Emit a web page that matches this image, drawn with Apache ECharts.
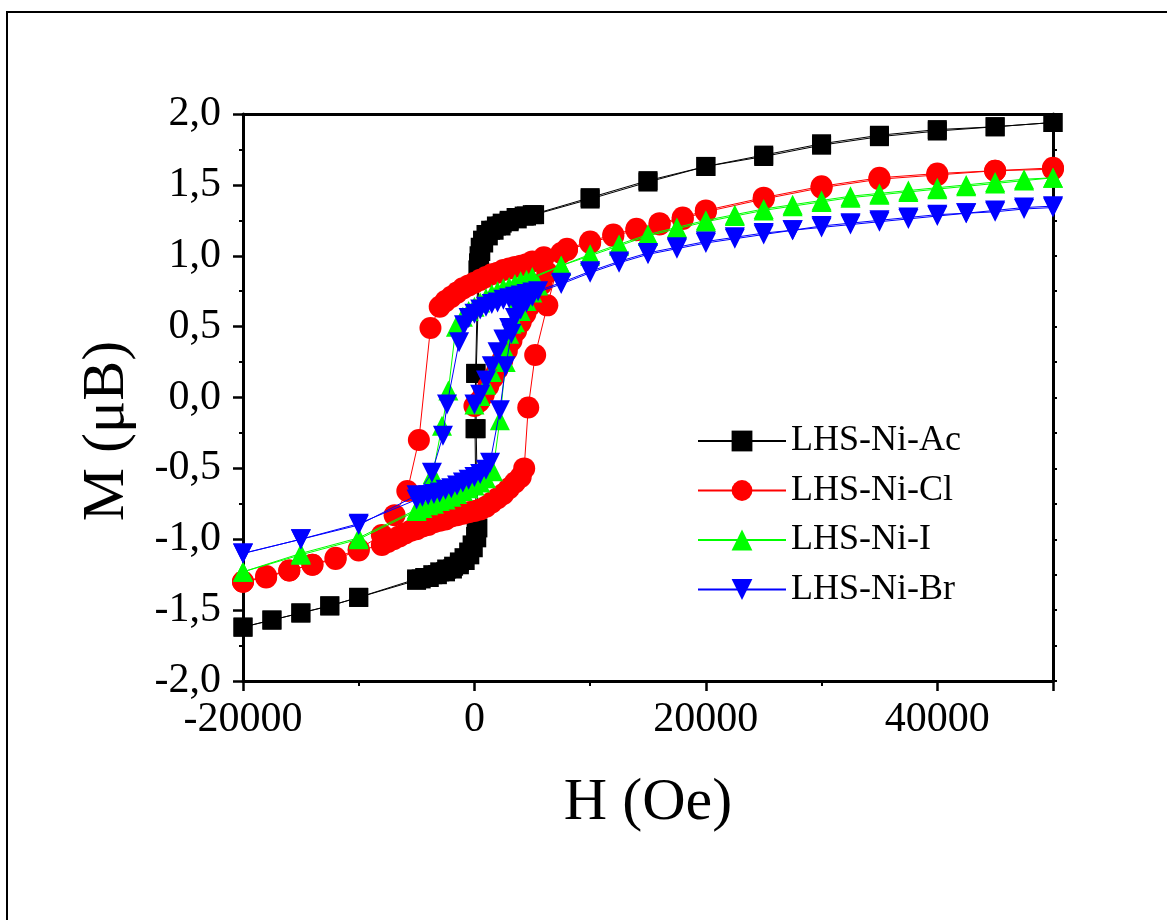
<!DOCTYPE html>
<html><head><meta charset="utf-8">
<script src="https://cdn.jsdelivr.net/npm/echarts@6/dist/echarts.min.js"></script>
<style>html,body{margin:0;padding:0;background:#fff}#c{width:1167px;height:920px}</style>
</head><body><div id="c"></div>
<script>
// ---- names ----
const seriesNames = ['LHS-Ni-Ac', 'LHS-Ni-Cl', 'LHS-Ni-I', 'LHS-Ni-Br'];
const xAxisTitle = 'H (Oe)';
const yAxisTitle = 'M (\u03bcB)';
const xRange = [-20000, 50000, 20000];
const yRange = [-2, 2, 0.5];

// ---- LHS-Ni-Ac ----
const acDown = [[50000,1.94],[45000,1.91],[40000,1.89],[35000,1.85],[30000,1.79],[25000,1.71],[20000,1.63],[15000,1.53],[10000,1.41],[5000,1.29],[4300,1.28],[3600,1.27],[3000,1.25],[2400,1.23],[1900,1.21],[1400,1.18],[1000,1.15],[700,1.11],[500,1.06],[400,1.00],[350,0.95],[300,0.90],[100,0.17],[50,-0.22],[150,-0.92],[100,-0.98],[-100,-1.06],[-400,-1.11],[-800,-1.15],[-1300,-1.18],[-1900,-1.21],[-2500,-1.23],[-3200,-1.25],[-3900,-1.27],[-4600,-1.28],[-5000,-1.29],[-10000,-1.41],[-12500,-1.47],[-15000,-1.52],[-17500,-1.57],[-20000,-1.62]];
const acUp = [[-20000,-1.62],[-17500,-1.57],[-15000,-1.52],[-12500,-1.47],[-10000,-1.41],[-5000,-1.28],[-4300,-1.27],[-3600,-1.25],[-3000,-1.23],[-2400,-1.21],[-1800,-1.19],[-1300,-1.16],[-900,-1.13],[-500,-1.09],[-200,-1.04],[200,-0.99],[300,-0.92],[150,-0.22],[150,0.17],[400,0.88],[450,0.96],[550,1.03],[800,1.09],[1200,1.14],[1700,1.18],[2300,1.21],[3000,1.24],[3700,1.26],[4500,1.28],[5200,1.29],[10000,1.40],[15000,1.52],[20000,1.63],[25000,1.70],[30000,1.78],[35000,1.84],[40000,1.88],[45000,1.91],[50000,1.94]];

// ---- LHS-Ni-Cl ----
const clVirgin = [[0,-0.06],[400,-0.03],[800,0.02],[1200,0.08],[1600,0.14],[2000,0.20],[2400,0.26],[2800,0.33],[3200,0.40],[3600,0.47],[4000,0.53],[4400,0.59],[4800,0.65],[5300,0.72],[5800,0.80],[6300,0.88]];
const clDown = [[50000,1.62],[45000,1.60],[40000,1.58],[35000,1.55],[30000,1.49],[25000,1.41],[20000,1.32],[18000,1.27],[16000,1.23],[14000,1.19],[12000,1.15],[10000,1.10],[8000,1.05],[6000,0.99],[5000,0.96],[4500,0.94],[4000,0.93],[3500,0.92],[3000,0.91],[2500,0.90],[2000,0.88],[1500,0.87],[1000,0.85],[500,0.83],[0,0.81],[-500,0.79],[-1000,0.77],[-1500,0.74],[-2000,0.71],[-2500,0.68],[-3000,0.64],[-3800,0.49],[-4800,-0.30],[-5800,-0.66],[-6900,-0.83],[-8000,-0.97],[-10000,-1.07],[-12000,-1.13],[-14000,-1.18],[-16000,-1.22],[-18000,-1.26],[-20000,-1.30]];
const clUp = [[-20000,-1.30],[-18000,-1.27],[-16000,-1.22],[-14000,-1.18],[-12000,-1.14],[-10000,-1.08],[-8000,-1.04],[-7500,-1.02],[-7000,-1.00],[-6500,-0.98],[-6000,-0.96],[-5500,-0.94],[-5000,-0.93],[-4500,-0.91],[-4000,-0.90],[-3500,-0.88],[-3000,-0.87],[-2500,-0.86],[-2000,-0.84],[-1500,-0.83],[-1000,-0.82],[-500,-0.81],[0,-0.80],[500,-0.79],[1000,-0.77],[1500,-0.74],[2000,-0.71],[2500,-0.68],[3000,-0.64],[3500,-0.60],[4000,-0.56],[4300,-0.50],[4650,-0.07],[5250,0.30],[6300,0.65],[7500,1.02],[8000,1.04],[10000,1.09],[12000,1.14],[14000,1.18],[16000,1.22],[18000,1.26],[20000,1.31],[25000,1.40],[30000,1.48],[35000,1.54],[40000,1.57],[45000,1.60],[50000,1.61]];

// ---- LHS-Ni-I ----
const iVirgin = [[0,-0.05],[500,0.01],[1000,0.09],[1500,0.18],[2000,0.27],[2500,0.36],[3000,0.45],[3500,0.53],[4000,0.61],[4500,0.68],[5000,0.74],[5500,0.79]];
const iDown = [[50000,1.55],[47500,1.54],[45000,1.52],[42500,1.50],[40000,1.48],[37500,1.46],[35000,1.44],[32500,1.42],[30000,1.39],[27500,1.36],[25000,1.33],[22500,1.29],[20000,1.25],[17500,1.20],[15000,1.15],[12500,1.08],[10000,1.01],[7500,0.93],[5000,0.85],[4500,0.83],[4000,0.82],[3500,0.80],[3000,0.78],[2500,0.77],[2000,0.75],[1500,0.73],[1000,0.70],[500,0.67],[0,0.64],[-500,0.61],[-1000,0.57],[-1600,0.50],[-2250,0.05],[-2800,-0.20],[-3600,-0.54],[-5000,-0.80],[-10000,-1.00],[-15000,-1.11],[-20000,-1.23]];
const iUp = [[-20000,-1.23],[-15000,-1.10],[-10000,-0.99],[-5000,-0.79],[-4500,-0.78],[-4000,-0.76],[-3500,-0.75],[-3000,-0.73],[-2500,-0.72],[-2000,-0.70],[-1500,-0.68],[-1000,-0.66],[-500,-0.64],[0,-0.62],[500,-0.60],[1000,-0.57],[1600,-0.52],[2200,-0.16],[2700,0.25],[3200,0.52],[3800,0.70],[4500,0.79],[5000,0.84],[7500,0.93],[10000,1.00],[12500,1.07],[15000,1.14],[17500,1.19],[20000,1.24],[22500,1.28],[25000,1.32],[27500,1.35],[30000,1.38],[32500,1.41],[35000,1.43],[37500,1.45],[40000,1.47],[42500,1.49],[45000,1.51],[47500,1.53],[50000,1.55]];

// ---- LHS-Ni-Br ----
const brVirgin = [[0,-0.05],[500,0.02],[1000,0.12],[1500,0.22],[2000,0.32],[2500,0.41],[3000,0.49],[3500,0.56],[4000,0.62],[4500,0.67],[5000,0.71],[5500,0.75]];
const brDown = [[50000,1.35],[47500,1.34],[45000,1.32],[42500,1.30],[40000,1.29],[37500,1.27],[35000,1.25],[32500,1.23],[30000,1.21],[27500,1.18],[25000,1.16],[22500,1.13],[20000,1.10],[17500,1.06],[15000,1.02],[12500,0.96],[10000,0.89],[7500,0.81],[5000,0.74],[4500,0.73],[4000,0.72],[3500,0.71],[3000,0.70],[2500,0.69],[2000,0.67],[1500,0.66],[1000,0.64],[500,0.62],[0,0.59],[-500,0.56],[-900,0.51],[-1330,0.39],[-2370,-0.05],[-2720,-0.27],[-3670,-0.53],[-5000,-0.69],[-10000,-0.90],[-15000,-1.00],[-20000,-1.10]];
const brUp = [[-20000,-1.10],[-15000,-1.00],[-10000,-0.89],[-5000,-0.72],[-4500,-0.70],[-4000,-0.69],[-3500,-0.68],[-3000,-0.67],[-2500,-0.65],[-2000,-0.64],[-1500,-0.62],[-1000,-0.60],[-500,-0.58],[0,-0.56],[500,-0.54],[1000,-0.51],[1350,-0.46],[2200,-0.09],[2700,0.22],[3200,0.45],[3800,0.62],[4500,0.70],[5000,0.73],[7500,0.80],[10000,0.88],[12500,0.95],[15000,1.01],[17500,1.05],[20000,1.09],[22500,1.12],[25000,1.15],[27500,1.18],[30000,1.20],[32500,1.22],[35000,1.24],[37500,1.26],[40000,1.28],[42500,1.30],[45000,1.31],[47500,1.33],[50000,1.34]];

const FONT = 'Liberation Serif';
const styles = [
  {color:'#000000', symbol:'rect', size:19, rotate:0},
  {color:'#ff0000', symbol:'circle', size:22, rotate:0},
  {color:'#00ff00', symbol:'triangle', size:20, rotate:0},
  {color:'#0000ff', symbol:'triangle', size:20, rotate:180}
];
const groups = [
  [acDown.concat(acUp)],
  [clDown.concat(clUp), clVirgin],
  [iDown.concat(iUp), iVirgin],
  [brDown.concat(brUp), brVirgin]
];

const series = [];
groups.forEach((g, gi) => {
  const st = styles[gi];
  g.forEach((d) => {
    series.push({
      type: 'line', name: seriesNames[gi], data: d,
      symbol: st.symbol, symbolSize: st.size, symbolRotate: st.rotate,
      itemStyle: {color: st.color, borderWidth: 0},
      lineStyle: {color: st.color, width: 1},
      emphasis: {disabled: true},
      clip: true, z: 2 + gi, animation: false
    });
  });
});

const fmtY = v => v.toFixed(1).replace('.', ',');
const fmtX = v => (v === xRange[1] ? '' : String(v));
const axisLine = {show: true, onZero: false, lineStyle: {color: '#000', width: 3}};

const chart = echarts.init(document.getElementById('c'), null, {renderer: 'canvas'});
chart.setOption({
  backgroundColor: '#fff',
  animation: false,
  grid: {left: 243, top: 114, width: 810, height: 567, containLabel: false},
  graphic: [
    {type: 'rect', shape: {x: 7, y: 12, width: 1300, height: 1100}, style: {fill: 'none', stroke: '#000', lineWidth: 2}, z: 0},
    {type: 'text', x: 107, y: 431, rotation: Math.PI / 2,
     style: {text: yAxisTitle, font: '60px "Liberation Serif"', fill: '#000', align: 'center', verticalAlign: 'middle'}, z: 10}
  ],
  legend: {
    orient: 'vertical', left: 697, top: 423, padding: 0, itemWidth: 88, itemHeight: 26, itemGap: 13.5,
    textStyle: {fontFamily: FONT, fontSize: 36, color: '#000', lineHeight: 36},
    data: seriesNames, selectedMode: false
  },
  xAxis: [
    {type: 'value', position: 'bottom', min: xRange[0], max: xRange[1], interval: xRange[2],
     axisLine, splitLine: {show: false},
     axisTick: {show: true, inside: false, length: 10, lineStyle: {color: '#000', width: 2.5}},
     minorTick: {show: true, splitNumber: 2, length: 5, lineStyle: {color: '#000', width: 2}},
     axisLabel: {fontFamily: FONT, fontSize: 42, color: '#000', margin: 18, formatter: fmtX, showMaxLabel: false},
     name: xAxisTitle, nameLocation: 'middle', nameGap: 92,
     nameTextStyle: {fontFamily: FONT, fontSize: 60, color: '#000'}},
    {type: 'value', position: 'top', min: xRange[0], max: xRange[1], interval: xRange[2],
     axisLine, splitLine: {show: false},
     axisTick: {show: false}, minorTick: {show: false}, axisLabel: {show: false}}
  ],
  yAxis: [
    {type: 'value', position: 'left', min: yRange[0], max: yRange[1], interval: yRange[2],
     axisLine, splitLine: {show: false},
     axisTick: {show: true, inside: false, length: 10, lineStyle: {color: '#000', width: 2.5}},
     minorTick: {show: true, splitNumber: 2, length: 4, lineStyle: {color: '#000', width: 2}},
     axisLabel: {fontFamily: FONT, fontSize: 42, color: '#000', margin: 22, formatter: fmtY}},
    {type: 'value', position: 'right', min: yRange[0], max: yRange[1], interval: yRange[2],
     axisLine, splitLine: {show: false},
     axisTick: {show: true, inside: false, length: 4, lineStyle: {color: '#000', width: 2}},
     minorTick: {show: true, splitNumber: 2, length: 4, lineStyle: {color: '#000', width: 2}},
     axisLabel: {show: false}}
  ],
  series: series
});
</script></body></html>
